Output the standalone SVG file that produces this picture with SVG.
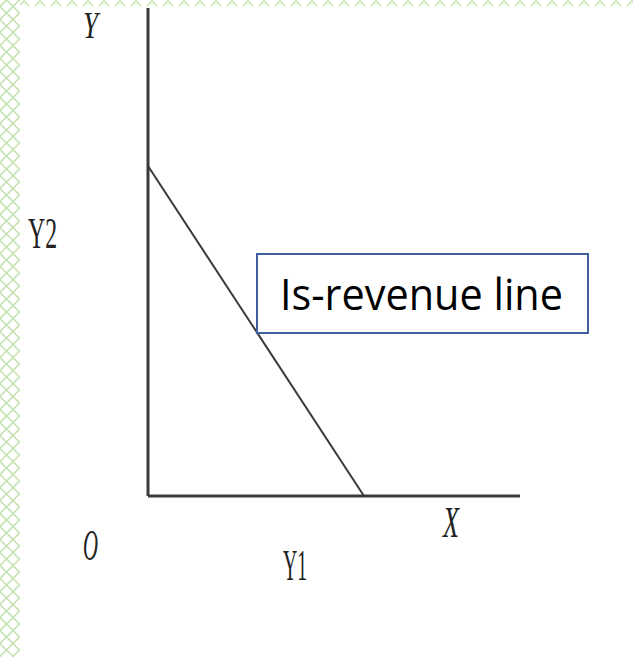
<svg xmlns="http://www.w3.org/2000/svg" width="633" height="657" viewBox="0 0 633 657">
<style>
.ax{stroke:#3a3a3a;stroke-width:3;fill:none}
.ln{stroke:#3a3a3a;stroke-width:2;fill:none}
.lab{font-family:"Liberation Serif",serif;fill:#222;font-size:44px}
.it{font-style:italic}
.box{fill:#fff;stroke:#3f5f9f;stroke-width:2}
.bt{font-family:"Open Sans","Liberation Sans",sans-serif;font-size:44px;fill:#000}
</style>
<defs>
<pattern id="hatch" width="13" height="13" patternUnits="userSpaceOnUse">
<path d="M0 6.5 L6.5 0 L13 6.5 L6.5 13 Z" fill="none" stroke="#c5e3b2" stroke-width="1.6"/>
</pattern>
<pattern id="chev" width="16" height="8" patternUnits="userSpaceOnUse">
<path d="M3 6 L8 1 L13 6" fill="none" stroke="#c5e3b2" stroke-width="1.6"/>
</pattern>
</defs>
<rect width="633" height="657" fill="#fff"/>
<rect x="0" y="0" width="20" height="657" fill="url(#hatch)"/>
<rect x="20" y="0" width="613" height="8" fill="url(#chev)"/>
<g id="connectors">
<line class="ax" x1="148" y1="8" x2="148" y2="496"/>
<line class="ax" x1="148" y1="496" x2="520" y2="496"/>
<line class="ln" x1="148" y1="166" x2="364" y2="496"/>
</g>
<g id="labels">
<text class="lab it" x="83" y="38" font-size="38" style="font-size:38px" textLength="15" lengthAdjust="spacingAndGlyphs">Y</text>
<text class="lab" x="28" y="248" textLength="29" lengthAdjust="spacingAndGlyphs">Y2</text>
<text class="lab it" x="83" y="560" textLength="15" lengthAdjust="spacingAndGlyphs">O</text>
<text class="lab" x="283" y="580" textLength="24" lengthAdjust="spacingAndGlyphs">Y1</text>
<text class="lab it" x="443" y="537" textLength="16" lengthAdjust="spacingAndGlyphs">X</text>
</g>
<g id="node-isrevenue">
<rect class="box" x="257" y="254" width="331" height="79"/>
<text class="bt" x="280" y="310" textLength="283" lengthAdjust="spacingAndGlyphs">Is-revenue line</text>
</g>
</svg>
